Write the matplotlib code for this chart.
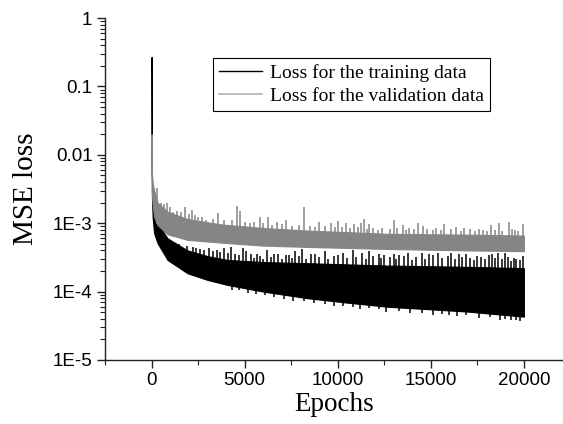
import numpy as np
import matplotlib
matplotlib.use('Agg')
import matplotlib.pyplot as plt
from matplotlib.lines import Line2D
from matplotlib.ticker import FixedLocator, FixedFormatter, LogLocator, NullFormatter, MultipleLocator

# Envelope of the training loss band (black)
TRAIN_EPOCHS = [0, 20, 60, 140, 323, 860, 1935, 3010, 4086, 6000, 8386, 10500, 12686, 15000, 16986, 20000]
TRAIN_UPPER = [0.27, 5e-3, 2.5e-3, 1.5e-3, 1.0e-3, 6.0e-4, 4.0e-4, 3.3e-4, 2.9e-4, 2.7e-4, 2.6e-4, 2.5e-4,
               2.4e-4, 2.35e-4, 2.3e-4, 2.2e-4]
TRAIN_LOWER = [0.02, 2.5e-3, 1.2e-3, 7.1e-4, 5.1e-4, 2.9e-4, 1.85e-4, 1.48e-4, 1.25e-4, 1.0e-4, 8.0e-5, 6.9e-5,
               6.0e-5, 5.5e-5, 5.1e-5, 4.3e-5]

# Envelope of the validation loss band (grey)
VAL_EPOCHS = [0, 15, 50, 140, 323, 860, 1935, 3740, 6000, 8386, 12686, 16986, 20000]
VAL_UPPER = [0.02, 6e-3, 4e-3, 3e-3, 2.0e-3, 1.47e-3, 1.15e-3, 9.6e-4, 8.5e-4, 7.8e-4, 7.0e-4, 6.8e-4, 6.6e-4]
VAL_LOWER = [0.01, 3e-3, 2e-3, 1.25e-3, 9.4e-4, 6.9e-4, 5.7e-4, 5.2e-4, 4.7e-4, 4.5e-4, 4.2e-4, 4.0e-4, 3.9e-4]

# Spikes above the validation band
VAL_SPIKE_EPOCHS = [300, 502, 650, 824, 1000, 1129, 1350, 1577, 1810, 2000, 2168, 2350, 2473, 2700, 2921,
                    3300, 3584, 3900, 4300, 4570, 4766, 5000, 5300, 5520, 5842, 6000, 6236, 6450, 6720,
                    7000, 7221, 7550, 7900, 8172, 8500, 8800, 9015, 9300, 9640, 9850, 10036, 10250, 10447,
                    10650, 10895, 11100, 11253, 11433, 11550, 11702, 11900, 12150, 12400, 12800, 13046,
                    13200, 13494, 13650, 13852, 14100, 14300, 14569, 14800, 15106, 15300, 15550, 15733,
                    16100, 16360, 16600, 16808, 17100, 17400, 17600, 17795, 18000, 18243, 18450, 18637,
                    18850, 19175, 19350, 19498, 19700, 19945]
VAL_SPIKE_VALUES = [3.3e-3, 1.95e-3, 1.9e-3, 1.95e-3, 1.7e-3, 1.47e-3, 1.5e-3, 1.47e-3, 1.7e-3, 1.35e-3,
                    1.56e-3, 1.3e-3, 1.25e-3, 1.25e-3, 1.11e-3, 1.15e-3, 1.43e-3, 1.12e-3, 1.1e-3, 1.78e-3,
                    1.52e-3, 1.05e-3, 1.0e-3, 1.05e-3, 1.25e-3, 1.0e-3, 1.22e-3, 9.5e-4, 1.05e-3, 9.8e-4,
                    1.11e-3, 9.2e-4, 9.5e-4, 1.75e-3, 9.2e-4, 8.8e-4, 1.03e-3, 9.0e-4, 1.0e-3, 8.7e-4,
                    1.07e-3, 8.9e-4, 1.0e-3, 8.5e-4, 9.6e-4, 8.8e-4, 1.0e-3, 1.14e-3, 8.3e-4, 9.6e-4,
                    8.6e-4, 8.0e-4, 8.4e-4, 8.2e-4, 1.11e-3, 8.5e-4, 9.3e-4, 8.0e-4, 8.4e-4, 8.3e-4,
                    9.9e-4, 9.0e-4, 8.1e-4, 8.0e-4, 8.4e-4, 7.9e-4, 9.6e-4, 8.2e-4, 8.8e-4, 7.8e-4,
                    8.4e-4, 8.1e-4, 7.7e-4, 8.3e-4, 8.0e-4, 7.8e-4, 9.3e-4, 8.0e-4, 9.9e-4, 7.6e-4,
                    1.03e-3, 8.1e-4, 8.0e-4, 7.7e-4, 9.6e-4]

# Spikes above the training band (into the gap under the grey band)
TRAIN_SPIKE_EPOCHS = [1100, 1300, 1500, 1700, 1900, 2200, 2400, 2600, 2800, 3100, 3300, 3500, 3700, 3900,
                      4100, 4250, 4500, 4700, 4900, 5100, 5350, 5500, 5650, 5800, 6000, 6200, 6400, 6600,
                      6800, 7000, 7200, 7400, 7550, 7700, 7900, 8100, 8300, 8550, 8800, 9000, 9300, 9500,
                      9800, 10000, 10300, 10500, 10800, 11000, 11300, 11500, 11700, 11900, 12200, 12350,
                      12500, 12800, 13000, 13150, 13300, 13550, 13800, 14000, 14200, 14500, 14700, 14900,
                      15100, 15400, 15600, 15900, 16100, 16300, 16500, 16700, 16900, 17100, 17300, 17500,
                      17700, 17900, 18100, 18300, 18450, 18600, 18800, 19000, 19150, 19300, 19450, 19600,
                      19800, 19950]
TRAIN_SPIKE_VALUES = [5.5e-4, 4.6e-4, 5.0e-4, 4.4e-4, 4.6e-4, 4.5e-4, 4.4e-4, 4.2e-4, 4.1e-4, 4.3e-4,
                      3.9e-4, 4.0e-4, 3.8e-4, 4.4e-4, 3.7e-4, 4.5e-4, 3.6e-4, 3.4e-4, 4.3e-4, 3.9e-4,
                      3.6e-4, 3.1e-4, 3.5e-4, 3.3e-4, 3.0e-4, 4.0e-4, 3.2e-4, 3.6e-4, 3.5e-4, 3.0e-4,
                      3.4e-4, 3.4e-4, 3.1e-4, 3.9e-4, 3.3e-4, 4.2e-4, 3.0e-4, 3.5e-4, 3.6e-4, 3.2e-4,
                      3.9e-4, 3.0e-4, 3.3e-4, 3.4e-4, 3.7e-4, 3.1e-4, 4.0e-4, 3.2e-4, 3.7e-4, 3.0e-4,
                      3.9e-4, 3.3e-4, 3.5e-4, 3.1e-4, 3.4e-4, 3.2e-4, 3.6e-4, 3.0e-4, 3.4e-4, 3.3e-4,
                      3.7e-4, 2.9e-4, 3.2e-4, 3.7e-4, 3.0e-4, 3.6e-4, 3.4e-4, 3.7e-4, 3.1e-4, 3.3e-4,
                      3.7e-4, 3.0e-4, 3.5e-4, 3.2e-4, 3.6e-4, 3.1e-4, 2.9e-4, 3.3e-4, 3.2e-4, 3.0e-4,
                      3.4e-4, 3.5e-4, 3.1e-4, 3.7e-4, 3.0e-4, 3.7e-4, 3.2e-4, 2.8e-4, 3.1e-4, 3.0e-4,
                      2.9e-4, 3.3e-4]

# Dips below the training band
TRAIN_DIP_EPOCHS = [4300, 4700, 5200, 5600, 6100, 6600, 7100, 7600, 8200, 8700, 9300, 9800, 10300, 10800,
                    11200, 11700, 12200, 12600, 13300, 13900, 14500, 15100, 15600, 16000, 16400, 16900,
                    17600, 18200, 18700, 19000, 19300, 19600, 19800]
TRAIN_DIP_VALUES = [1.07e-4, 1.04e-4, 9.5e-5, 9.3e-5, 8.8e-5, 8.4e-5, 7.9e-5, 7.4e-5, 7.2e-5, 6.9e-5,
                    6.6e-5, 6.2e-5, 6.2e-5, 6.0e-5, 5.6e-5, 5.7e-5, 5.5e-5, 5.1e-5, 5.2e-5, 4.9e-5,
                    4.9e-5, 4.6e-5, 4.7e-5, 4.6e-5, 4.4e-5, 4.5e-5, 4.1e-5, 4.2e-5, 3.9e-5, 4.0e-5,
                    3.8e-5, 3.8e-5, 3.7e-5]

BLACK = '#000000'
GREY = '#858585'


def band_at(epochs, env_epochs, env_values):
    return 10 ** np.interp(epochs, env_epochs, np.log10(env_values))


fig = plt.figure(figsize=(5.63, 4.24), dpi=100)
ax = fig.add_axes([0.1865, 0.151, 0.8135, 0.8065])
ax.set_yscale('log')

# training band
ax.fill_between(TRAIN_EPOCHS, TRAIN_LOWER, TRAIN_UPPER, color=BLACK, lw=0.8)
ax.vlines(TRAIN_SPIKE_EPOCHS, band_at(TRAIN_SPIKE_EPOCHS, TRAIN_EPOCHS, TRAIN_LOWER), TRAIN_SPIKE_VALUES,
          color=BLACK, lw=1.1)
ax.vlines(TRAIN_DIP_EPOCHS, TRAIN_DIP_VALUES, band_at(TRAIN_DIP_EPOCHS, TRAIN_EPOCHS, TRAIN_UPPER),
          color=BLACK, lw=1.1)

# validation band
ax.fill_between(VAL_EPOCHS, VAL_LOWER, VAL_UPPER, color=GREY, lw=0.8)
ax.vlines(VAL_SPIKE_EPOCHS, band_at(VAL_SPIKE_EPOCHS, VAL_EPOCHS, VAL_LOWER), VAL_SPIKE_VALUES,
          color=GREY, lw=1.1)

ax.set_xlim(-2500, 22100)
ax.set_ylim(1e-5, 1)

for side in ['top', 'right']:
    ax.spines[side].set_visible(False)
for side in ['left', 'bottom']:
    ax.spines[side].set_linewidth(1.0)
    ax.spines[side].set_color('#222222')

ax.xaxis.set_major_locator(FixedLocator([0, 5000, 10000, 15000, 20000]))
ax.xaxis.set_minor_locator(MultipleLocator(2500))
ax.yaxis.set_major_locator(FixedLocator([1e-5, 1e-4, 1e-3, 1e-2, 1e-1, 1]))
ax.yaxis.set_major_formatter(FixedFormatter(['1E-5', '1E-4', '1E-3', '0.01', '0.1', '1']))
ax.yaxis.set_minor_locator(LogLocator(base=10, subs=np.arange(2, 10), numticks=20))
ax.yaxis.set_minor_formatter(NullFormatter())
ax.tick_params(which='major', direction='out', length=6, width=1.0, color='#222222',
               labelsize=13.5, pad=3)
ax.tick_params(which='minor', direction='out', length=3.5, width=0.8, color='#222222')
for lab in ax.get_xticklabels() + ax.get_yticklabels():
    lab.set_fontfamily('Liberation Sans')

ax.set_xlabel('Epochs', fontfamily='Liberation Serif', fontsize=19.5, labelpad=2)
ax.set_ylabel('MSE loss', fontfamily='Liberation Serif', fontsize=21, labelpad=10)

handles = [Line2D([], [], color=BLACK, lw=1.0), Line2D([], [], color='#b0b0b0', lw=1.2)]
leg = ax.legend(handles, ['Loss for the training data', 'Loss for the validation data'],
                loc='upper left', bbox_to_anchor=(0.236, 0.883), borderaxespad=0,
                prop={'family': 'Liberation Serif', 'size': 14}, fancybox=False, framealpha=1,
                edgecolor='black', handlelength=2.2, handletextpad=0.45, labelspacing=0.3,
                borderpad=0.3)
leg.get_frame().set_linewidth(0.8)

fig.savefig('out.png', dpi=100)
